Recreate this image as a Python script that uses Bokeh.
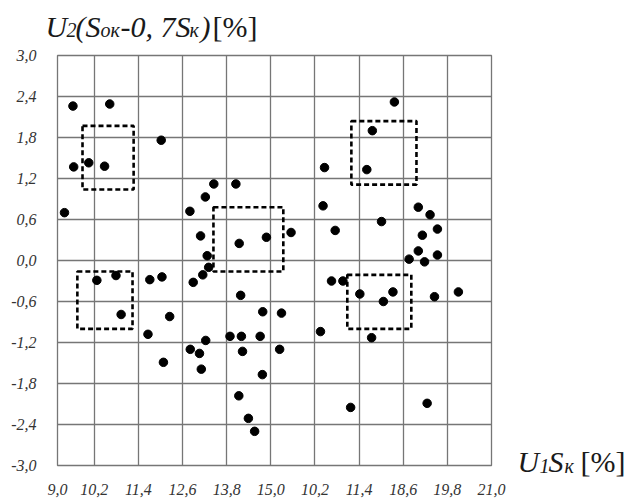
from bokeh.plotting import figure
from bokeh.models import Range1d, FixedTicker
from bokeh.layouts import column, row
from bokeh.core.properties import value
from bokeh.embed import file_html
from bokeh.resources import INLINE

# ---- data ----
x_ticks = [9.2, 10.2, 11.4, 12.6, 13.8, 15.0, 16.2, 17.4, 18.6, 19.8, 21.0]
x_tick_labels = ["9,0", "10,2", "11,4", "12,6", "13,8", "15,0", "10,2", "11,4", "18,6", "19,8", "21,0"]
y_ticks = [3.0, 2.4, 1.8, 1.2, 0.6, 0.0, -0.6, -1.2, -1.8, -2.4, -3.0]
y_tick_labels = ["3,0", "2,4", "1,8", "1,2", "0,6", "0,0", "-0,6", "-1,2", "-1,8", "-2,4", "-3,0"]

u1 = [9.62, 10.62, 12.02, 9.64, 10.05, 10.48, 9.39, 13.45, 14.05, 13.22,
      12.80, 13.09, 14.14, 14.88, 15.55, 18.36, 17.76, 16.46, 17.61, 16.42,
      19.01, 19.33, 18.01, 16.75, 19.53, 19.12, 19.01, 18.76, 19.18, 19.53,
      13.27, 13.31, 13.15, 12.89, 10.27, 10.79, 11.71, 12.04, 14.18, 10.93,
      12.25, 14.78, 15.29, 11.66, 13.23, 13.89, 14.20, 14.71, 16.35, 12.81,
      13.06, 14.23, 15.24, 12.08, 13.11, 14.77, 14.13, 14.39, 14.56, 16.65,
      16.96, 17.42, 18.32, 18.06, 19.45, 20.10, 17.74, 17.17, 19.25]
u2 = [2.26, 2.29, 1.76, 1.37, 1.43, 1.38, 0.70, 1.12, 1.12, 0.93,
      0.72, 0.36, 0.25, 0.34, 0.41, 2.32, 1.90, 1.36, 1.33, 0.80,
      0.78, 0.67, 0.57, 0.44, 0.46, 0.37, 0.14, 0.02, -0.02, 0.08,
      0.07, -0.10, -0.21, -0.32, -0.29, -0.22, -0.28, -0.24, -0.51, -0.79,
      -0.82, -0.75, -0.77, -1.08, -1.17, -1.11, -1.11, -1.11, -1.04, -1.30,
      -1.36, -1.33, -1.30, -1.49, -1.59, -1.67, -1.98, -2.31, -2.50, -0.30,
      -0.30, -0.49, -0.46, -0.60, -0.53, -0.46, -1.13, -2.15, -2.09]

box_left = [9.88, 13.44, 9.74, 17.19, 17.08]
box_right = [11.27, 15.34, 11.24, 18.96, 18.82]
box_bottom = [1.04, -0.16, -1.00, 1.11, -1.00]
box_top = [1.97, 0.78, -0.16, 2.04, -0.21]

# axis titles, split into normal-size and subscript pieces
y_title_main = ["U", "(S", "-0, 7S", ")"]
y_title_sub = ["2", "ок", "к"]
y_title_reg = ["[%]"]
x_title_main = ["U", "S"]
x_title_sub = ["1", "к"]
x_title_reg = ["[%]"]

SERIF = "Liberation Serif"
W, H = 632, 498
TOP_H = 44          # height of the strip holding the y-axis title
MAIN_W = 506        # width of the main plot (incl. left/right borders)
FL, FT, FB, FR = 57, 55, 465, 491

# ---- main plot ----
X0, X1, Y0, Y1 = 9.2, 21.0, -3.0, 3.0
p = figure(width=MAIN_W, height=H - TOP_H, x_range=Range1d(X0, X1), y_range=Range1d(Y0, Y1),
           title=None, output_backend="svg", toolbar_location=None,
           min_border_left=FL, min_border_right=MAIN_W - FR,
           min_border_top=FT - TOP_H, min_border_bottom=H - FB)
p.outline_line_color = "#767676"
p.outline_line_width = 1.3

p.xaxis.ticker = FixedTicker(ticks=x_ticks)
p.yaxis.ticker = FixedTicker(ticks=y_ticks)
p.xaxis.major_label_overrides = {t: s for t, s in zip(x_ticks, x_tick_labels)}
p.yaxis.major_label_overrides = {t: s for t, s in zip(y_ticks, y_tick_labels)}
for ax in (p.xaxis, p.yaxis):
    ax.axis_line_color = None
    ax.major_tick_line_color = None
    ax.minor_tick_line_color = None
    ax.major_label_text_font = SERIF
    ax.major_label_text_font_style = "italic"
    ax.major_label_text_font_size = "16px"
    ax.major_label_text_color = "#333333"
p.xaxis.major_label_standoff = 12
p.yaxis.major_label_standoff = 15

p.grid.grid_line_color = "#767676"
p.grid.grid_line_width = 1.3
p.grid.grid_line_alpha = 1.0

p.quad(left=box_left, right=box_right, bottom=box_bottom, top=box_top,
       fill_color=None, line_color="black", line_width=2.6, line_dash="5 3")
p.scatter(u1, u2, size=8.5, color="black")


def strip(w, h):
    f = figure(frame_width=w, frame_height=h, x_range=Range1d(0, w), y_range=Range1d(h, 0),
               title=None, output_backend="svg", toolbar_location=None,
               x_axis_type=None, y_axis_type=None,
               min_border=0, min_border_left=0, min_border_right=0,
               min_border_top=0, min_border_bottom=0)
    f.grid.visible = False
    f.outline_line_color = None
    return f


def write(f, xs, ys, texts, size, italic=True):
    f.text(x=xs, y=ys, text=texts, text_font=value(SERIF),
           text_font_style="italic" if italic else "normal",
           text_font_size=f"{size}px", text_color="#1a1a1a",
           text_baseline="alphabetic", text_align="left")


# ---- y-axis title strip (top) ----
t = strip(W, TOP_H)
MB, SB = 25.5, 29
write(t, [45, 75, 120, 200], [MB] * 4, y_title_main, 30)
write(t, [66, 100, 189], [SB] * 3, y_title_sub, 20)
write(t, [212], [MB], y_title_reg, 30, italic=False)

# ---- x-axis title strip (right) ----
r = strip(W - MAIN_W, H - TOP_H)
RB, RS = 450 - TOP_H, 454 - TOP_H
write(r, [517 - MAIN_W, 548 - MAIN_W], [RB, RB], x_title_main, 30)
write(r, [539 - MAIN_W, 564 - MAIN_W], [RS, RS], x_title_sub, 20)
write(r, [580 - MAIN_W], [RB], x_title_reg, 30, italic=False)

layout = column(t, row(p, r, spacing=0), spacing=0)
open("out.html", "w").write(file_html(layout, INLINE))
